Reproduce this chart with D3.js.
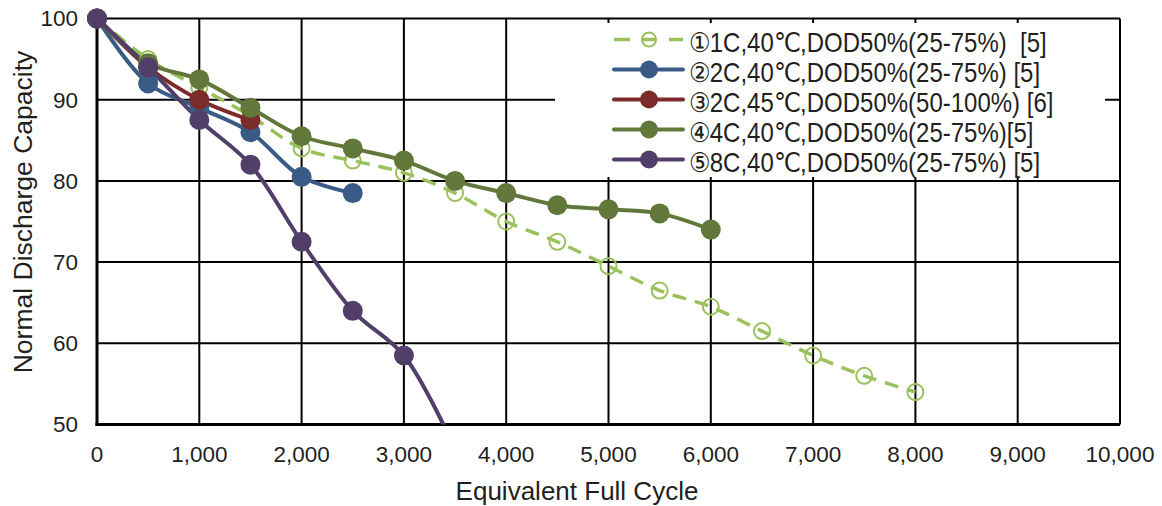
<!DOCTYPE html>
<html>
<head>
<meta charset="utf-8">
<script src="https://cdn.jsdelivr.net/npm/d3@7"></script>
<style>
  body { margin: 0; background: #fff; }
  text { font-family: Arial, "Liberation Sans", sans-serif; fill: #231f20; white-space: pre; }
</style>
</head>
<body>
<div id="chart"></div>
<script>
// data
const cycles1 = [0, 500, 1000, 1500, 2000, 2500, 3000, 3500, 4000, 4500, 5000, 5500, 6000, 6500, 7000, 7500, 8000];
const cap1 = [100, 95, 91.5, 88, 84, 82.5, 81, 78.5, 75, 72.5, 69.5, 66.5, 64.5, 61.5, 58.5, 56, 54];
const cycles2 = [0, 500, 1000, 1500, 2000, 2500];
const cap2 = [100, 92, 89, 86, 80.5, 78.5];
const cycles3 = [0, 500, 1000, 1500];
const cap3 = [100, 94, 90, 87.5];
const cycles4 = [0, 500, 1000, 1500, 2000, 2500, 3000, 3500, 4000, 4500, 5000, 5500, 6000];
const cap4 = [100, 94.5, 92.5, 89, 85.5, 84, 82.5, 80, 78.5, 77, 76.5, 76, 74];
const cycles5 = [0, 500, 1000, 1500, 2000, 2500, 3000, 3500];
const cap5 = [100, 94, 87.5, 82, 72.5, 64, 58.5, 47];

const seriesNames = [
  '①1C,40℃,DOD50%(25-75%)  [5]',
  '②2C,40℃,DOD50%(25-75%) [5]',
  '③2C,45℃,DOD50%(50-100%) [6]',
  '④4C,40℃,DOD50%(25-75%)[5]',
  '⑤8C,40℃,DOD50%(25-75%) [5]',
];
const xTicks = [0, 1000, 2000, 3000, 4000, 5000, 6000, 7000, 8000, 9000, 10000];
const yTicks = [50, 60, 70, 80, 90, 100];

const colors = ['#9bc15d', '#3a5b85', '#7b2c2a', '#62783a', '#513f69'];

const series = [
  { name: seriesNames[0], xs: cycles1, ys: cap1, color: colors[0], open: true },
  { name: seriesNames[1], xs: cycles2, ys: cap2, color: colors[1] },
  { name: seriesNames[2], xs: cycles3, ys: cap3, color: colors[2] },
  { name: seriesNames[3], xs: cycles4, ys: cap4, color: colors[3] },
  { name: seriesNames[4], xs: cycles5, ys: cap5, color: colors[4] },
];

const W = 1162, H = 506;
const svg = d3.select('#chart').append('svg').attr('width', W).attr('height', H);

const x = d3.scaleLinear().domain([0, 10000]).range([97, 1120]);
const y = d3.scaleLinear().domain([50, 100]).range([424.5, 18.5]);

// grid
svg.append('g')
  .selectAll('line')
  .data(yTicks.slice(1))
  .join('line')
  .attr('x1', x(0)).attr('x2', x(10000))
  .attr('y1', d => y(d)).attr('y2', d => y(d))
  .attr('stroke', '#000').attr('stroke-width', 2);
svg.append('g')
  .selectAll('line')
  .data(xTicks.slice(1))
  .join('line')
  .attr('x1', d => x(d)).attr('x2', d => x(d))
  .attr('y1', y(50)).attr('y2', y(100))
  .attr('stroke', '#000').attr('stroke-width', 2);

// axes
svg.append('line')
  .attr('x1', x(0)).attr('x2', x(0)).attr('y1', y(50) + 1.5).attr('y2', y(100))
  .attr('stroke', '#000').attr('stroke-width', 3);
svg.append('line')
  .attr('x1', x(0) - 1.5).attr('x2', x(10000)).attr('y1', y(50)).attr('y2', y(50))
  .attr('stroke', '#000').attr('stroke-width', 3);

// tick labels
svg.append('g')
  .selectAll('text')
  .data(yTicks)
  .join('text')
  .attr('x', 78).attr('y', d => y(d))
  .attr('dy', '0.35em')
  .attr('text-anchor', 'end')
  .style('font-size', '22.5px')
  .text(d => d);
svg.append('g')
  .selectAll('text')
  .data(xTicks)
  .join('text')
  .attr('x', d => x(d)).attr('y', 462)
  .attr('text-anchor', 'middle')
  .style('font-size', '22.5px')
  .text(d => d3.format(',')(d));

// axis titles
svg.append('text')
  .attr('transform', 'translate(32,212) rotate(-90)')
  .attr('text-anchor', 'middle')
  .style('font-size', '26.5px')
  .text('Normal Discharge Capacity');
svg.append('text')
  .attr('x', 577).attr('y', 500)
  .attr('text-anchor', 'middle')
  .style('font-size', '26px')
  .text('Equivalent Full Cycle');

// legend background
svg.append('rect')
  .attr('x', 555).attr('y', 23).attr('width', 550).attr('height', 154)
  .attr('fill', '#fff');

svg.append('clipPath').attr('id', 'plot')
  .append('rect')
  .attr('x', x(0)).attr('y', 0).attr('width', x(10000) - x(0)).attr('height', y(50));

const line = d3.line()
  .x(d => x(d[0]))
  .y(d => y(d[1]))
  .curve(d3.curveCatmullRom.alpha(0.5));

const plot = svg.append('g').attr('clip-path', 'url(#plot)');

series.forEach(s => {
  const pts = s.xs.map((c, i) => [c, s.ys[i]]);
  plot.append('path')
    .datum(pts)
    .attr('d', line)
    .attr('fill', 'none')
    .attr('stroke', s.color)
    .attr('stroke-width', s.open ? 3.5 : 4)
    .attr('stroke-dasharray', s.open ? '14,9' : null);
  svg.append('g')
    .selectAll('circle')
    .data(pts.filter(p => p[1] >= 50))
    .join('circle')
    .attr('cx', d => x(d[0]))
    .attr('cy', d => y(d[1]))
    .attr('r', s.open ? 8 : 10)
    .attr('fill', s.open ? 'none' : s.color)
    .attr('stroke', s.color)
    .attr('stroke-width', s.open ? 2 : 0);
});

// legend
const legend = svg.append('g');
series.forEach((s, i) => {
  const ly = 39.5 + i * 30;
  legend.append('line')
    .attr('x1', 614).attr('x2', 683).attr('y1', ly).attr('y2', ly)
    .attr('stroke', s.color)
    .attr('stroke-width', s.open ? 3.5 : 4)
    .attr('stroke-linecap', s.open ? 'butt' : 'round')
    .attr('stroke-dasharray', s.open ? '16,12,14,13,14' : null);
  legend.append('circle')
    .attr('cx', 649).attr('cy', ly)
    .attr('r', s.open ? 7 : 9)
    .attr('fill', s.open ? 'none' : s.color)
    .attr('stroke', s.color)
    .attr('stroke-width', s.open ? 2 : 0);
  legend.append('text')
    .attr('transform', `translate(689,${ly + 2.5}) scale(1,1.12)`)
    .attr('dy', '0.36em')
    .style('font-size', '24px')
    .text(s.name);
});
</script>
</body>
</html>
